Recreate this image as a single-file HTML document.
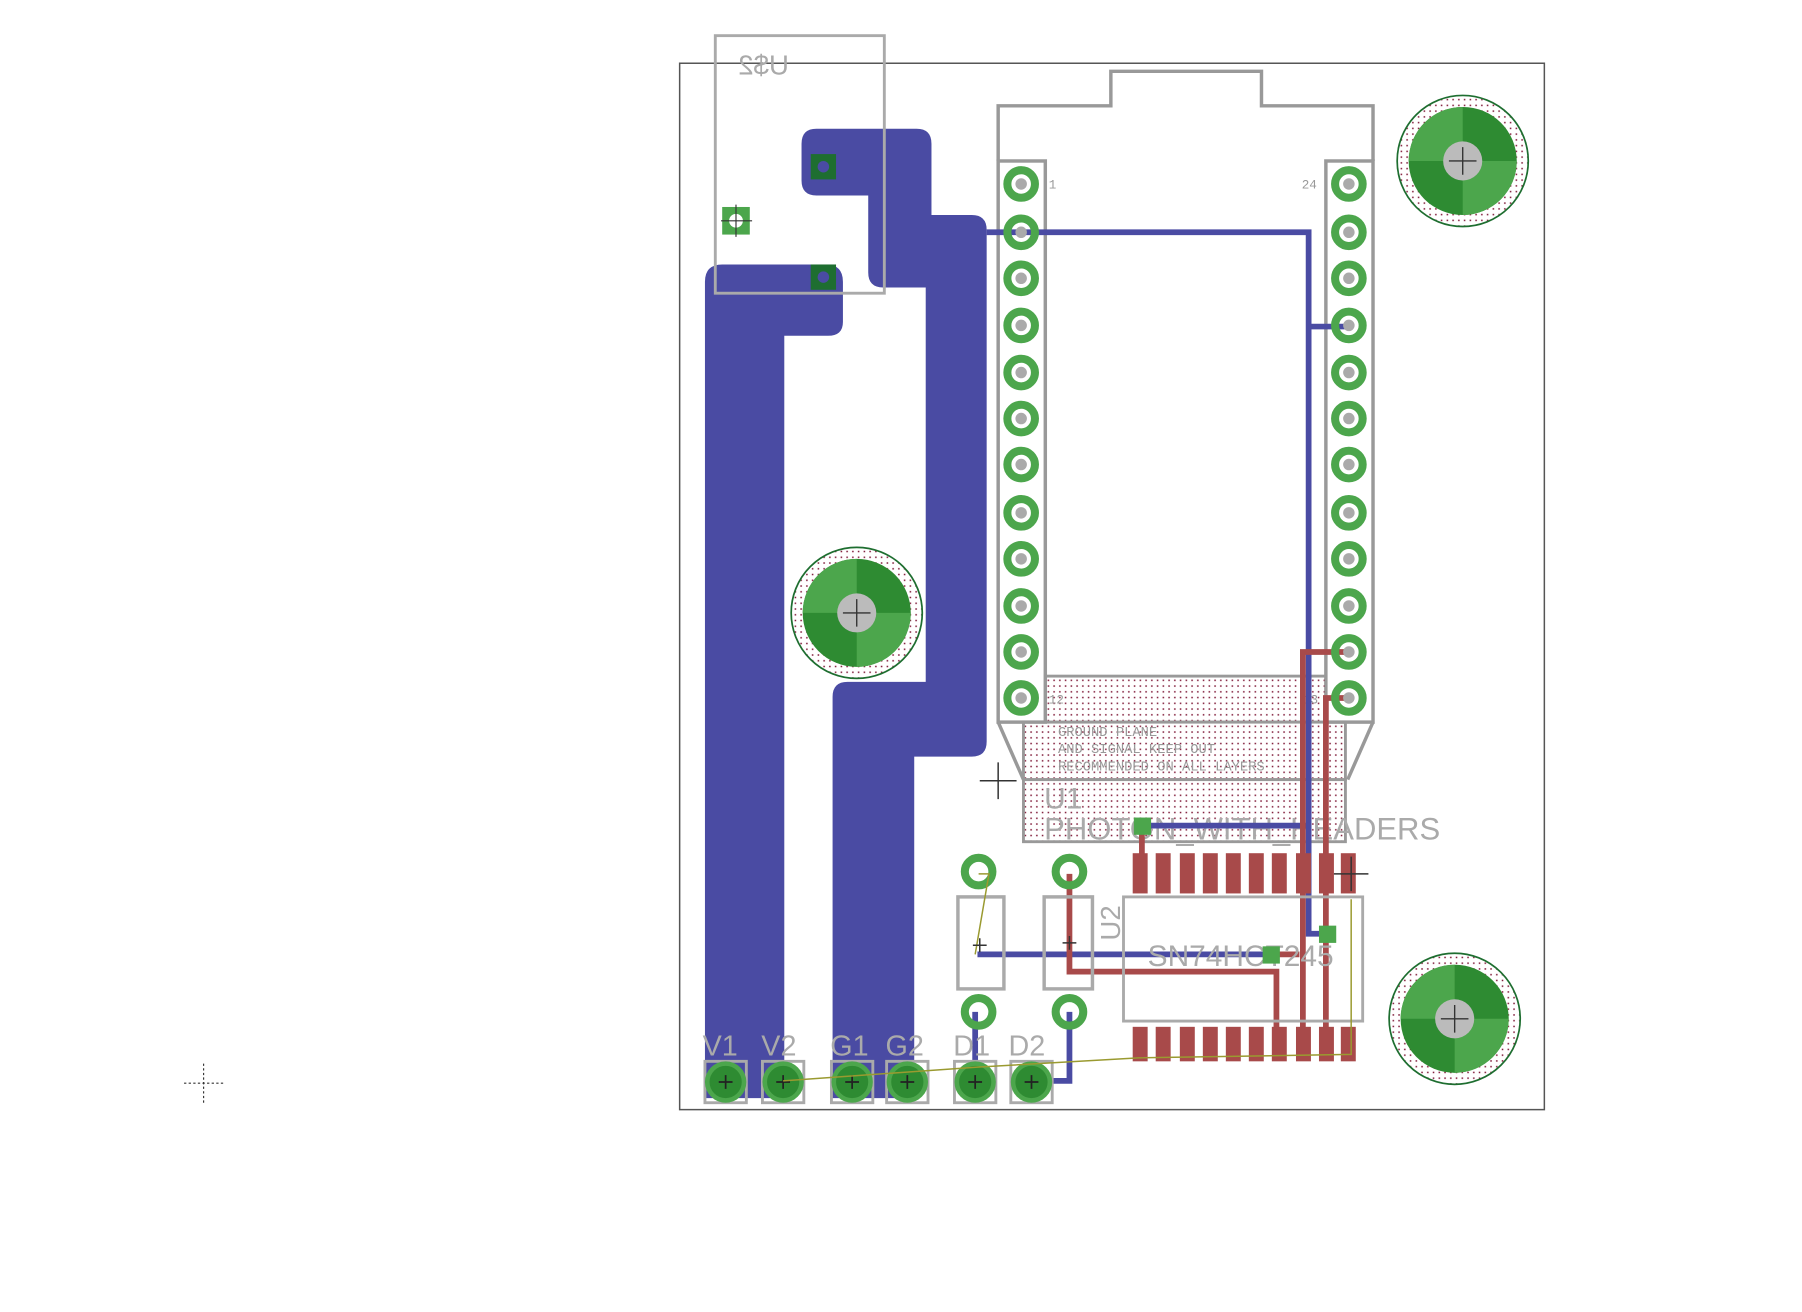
<!DOCTYPE html>
<html><head><meta charset="utf-8"><style>html,body{margin:0;padding:0;background:#fff}svg{display:block}</style></head>
<body>
<svg width="1802" height="1312" viewBox="0 0 1567 1141" xmlns="http://www.w3.org/2000/svg" font-family="Liberation Sans, sans-serif">
<defs>
<pattern id="dots" width="5" height="5" patternUnits="userSpaceOnUse"><rect x="1" y="1" width="1.3" height="1.3" fill="#7a1030"/></pattern>
</defs>
<rect width="1567" height="1141" fill="#fff"/>
<!-- board outline -->
<rect x="591" y="55" width="752" height="910" fill="none" stroke="#555" stroke-width="1.3"/>
<!-- blue pour -->
<g fill="#4a4ba3">
<path d="M613,245 Q613,230 628,230 L718,230 Q733,230 733,245 L733,280 Q733,292 720,292 L682,292 L682,955 L613,955 Z"/>
<path d="M710,112 L797,112 Q810,112 810,125 L810,187 L845,187 Q858,187 858,200 L858,645 Q858,658 845,658 L795,658 L795,955 L724,955 L724,606 Q724,593 737,593 L805,593 L805,250 L768,250 Q755,250 755,237 L755,170 L710,170 Q697,170 697,157 L697,125 Q697,112 710,112 Z"/>
</g>
<rect x="705" y="134" width="22" height="22" fill="#1e6e30"/><circle cx="716" cy="145" r="5" fill="#4a4ba3"/>
<rect x="705" y="230" width="22" height="22" fill="#1e6e30"/><circle cx="716" cy="241" r="5" fill="#4a4ba3"/>
<rect x="628" y="180" width="24" height="24" fill="#4ca64c"/><circle cx="640" cy="192" r="6" fill="#fff"/>
<path d="M627,192 H654 M640,178 V206" stroke="#333" stroke-width="1"/>
<!-- U$2 outline -->
<rect x="622" y="31" width="147" height="224" fill="none" stroke="#aaa" stroke-width="2.5"/>
<text x="638" y="65" font-size="24" fill="#aaa" transform="translate(1324,0) scale(-1,1)">U$2</text>
<!-- Photon outline -->
<path d="M868,140 V92 H966 V62 H1097 V92 H1194 V140" fill="none" stroke="#999" stroke-width="3"/>
<rect x="868" y="140" width="41" height="488" fill="none" stroke="#999" stroke-width="3"/>
<rect x="1153" y="140" width="41" height="488" fill="none" stroke="#999" stroke-width="3"/>
<path d="M868,628 L890,678 M1194,628 L1172,678" stroke="#999" stroke-width="3"/>
<!-- hatched keepout -->
<g stroke="#999" stroke-width="2.5" fill="url(#dots)">
<rect x="909" y="588" width="244" height="40"/>
<rect x="890" y="628" width="280" height="50"/>
<rect x="890" y="678" width="280" height="54"/>
</g>
<g font-family="Liberation Mono, monospace" fill="#999" font-size="12">
<text x="920" y="640">GROUND PLANE</text>
<text x="920" y="655">AND SIGNAL KEEP OUT</text>
<text x="920" y="670">RECOMMENDED ON ALL LAYERS</text>
<text x="912" y="612" font-size="11">12</text>
<text x="1133" y="612" font-size="11">13</text>
<text x="912" y="164" font-size="11">1</text>
<text x="1132" y="164" font-size="11">24</text>
</g>
<text x="908" y="703" font-size="26" fill="#aaa">U1</text>
<text x="908" y="730" font-size="27" fill="#aaa">PHOTON_WITH_HEADERS</text>
<!-- thin blue traces -->
<g stroke="#4a4ba3" stroke-width="5" fill="none">
<path d="M858,202 H1138 V812 H1155"/>
<path d="M1138,284 H1173"/>
<path d="M993,718 H1140"/>
<path d="M850,830 H1105"/>
<path d="M848,880 V940"/>
<path d="M930,880 V940 H897"/>
</g>
<!-- red traces -->
<g stroke="#a84a4a" stroke-width="5" fill="none">
<path d="M1173,567 H1133 V900"/>
<path d="M1173,607 H1153 V900"/>
<path d="M993,718 V745"/>
<path d="M930,760 V845 H1110 V900"/>
<path d="M1105,830 H1130"/>
</g>
<!-- SOIC pads -->
<g fill="#a84a4a">
<rect x="985" y="742" width="13" height="35"/><rect x="1005" y="742" width="13" height="35"/><rect x="1026" y="742" width="13" height="35"/><rect x="1046" y="742" width="13" height="35"/><rect x="1066" y="742" width="13" height="35"/><rect x="1086" y="742" width="13" height="35"/><rect x="1106" y="742" width="13" height="35"/><rect x="1127" y="742" width="13" height="35"/><rect x="1147" y="742" width="13" height="35"/><rect x="1166" y="742" width="13" height="35"/>
<rect x="985" y="893" width="13" height="30"/><rect x="1005" y="893" width="13" height="30"/><rect x="1026" y="893" width="13" height="30"/><rect x="1046" y="893" width="13" height="30"/><rect x="1066" y="893" width="13" height="30"/><rect x="1086" y="893" width="13" height="30"/><rect x="1106" y="893" width="13" height="30"/><rect x="1127" y="893" width="13" height="30"/><rect x="1147" y="893" width="13" height="30"/><rect x="1166" y="893" width="13" height="30"/>
</g>
<rect x="977" y="780" width="208" height="108" fill="none" stroke="#aaa" stroke-width="2.5"/>
<text x="998" y="840" font-size="26" fill="#aaa">SN74HCT245</text>
<text x="0" y="0" font-size="24" fill="#aaa" transform="translate(974,818) rotate(-90)">U2</text>
<!-- vias -->
<g fill="#4ca64c"><rect x="986" y="711" width="15" height="15"/><rect x="1098" y="823" width="15" height="15"/><rect x="1147" y="805" width="15" height="15"/></g>
<!-- resistors -->
<rect x="833" y="780" width="40" height="80" fill="none" stroke="#aaa" stroke-width="3"/>
<rect x="908" y="780" width="42" height="80" fill="none" stroke="#aaa" stroke-width="3"/>
<g fill="none" stroke="#4ca64c" stroke-width="7">
<circle cx="851" cy="758" r="12"/><circle cx="930" cy="758" r="12"/><circle cx="851" cy="880" r="12"/><circle cx="930" cy="880" r="12"/>
</g>
<!-- header pins -->
<g fill="none" stroke="#4ca64c" stroke-width="7">
<circle cx="888" cy="160" r="12"/><circle cx="888" cy="202" r="12"/><circle cx="888" cy="242" r="12"/><circle cx="888" cy="283" r="12"/><circle cx="888" cy="324" r="12"/><circle cx="888" cy="364" r="12"/><circle cx="888" cy="404" r="12"/><circle cx="888" cy="446" r="12"/><circle cx="888" cy="486" r="12"/><circle cx="888" cy="527" r="12"/><circle cx="888" cy="567" r="12"/><circle cx="888" cy="607" r="12"/>
<circle cx="1173" cy="160" r="12"/><circle cx="1173" cy="202" r="12"/><circle cx="1173" cy="242" r="12"/><circle cx="1173" cy="283" r="12"/><circle cx="1173" cy="324" r="12"/><circle cx="1173" cy="364" r="12"/><circle cx="1173" cy="404" r="12"/><circle cx="1173" cy="446" r="12"/><circle cx="1173" cy="486" r="12"/><circle cx="1173" cy="527" r="12"/><circle cx="1173" cy="567" r="12"/><circle cx="1173" cy="607" r="12"/>
</g>
<g fill="#aaa">
<circle cx="888" cy="160" r="5"/><circle cx="888" cy="202" r="5"/><circle cx="888" cy="242" r="5"/><circle cx="888" cy="283" r="5"/><circle cx="888" cy="324" r="5"/><circle cx="888" cy="364" r="5"/><circle cx="888" cy="404" r="5"/><circle cx="888" cy="446" r="5"/><circle cx="888" cy="486" r="5"/><circle cx="888" cy="527" r="5"/><circle cx="888" cy="567" r="5"/><circle cx="888" cy="607" r="5"/>
<circle cx="1173" cy="160" r="5"/><circle cx="1173" cy="202" r="5"/><circle cx="1173" cy="242" r="5"/><circle cx="1173" cy="283" r="5"/><circle cx="1173" cy="324" r="5"/><circle cx="1173" cy="364" r="5"/><circle cx="1173" cy="404" r="5"/><circle cx="1173" cy="446" r="5"/><circle cx="1173" cy="486" r="5"/><circle cx="1173" cy="527" r="5"/><circle cx="1173" cy="567" r="5"/><circle cx="1173" cy="607" r="5"/>
</g>
<!-- mounting holes -->
<g>
<g transform="translate(745,533)"><circle r="57" fill="url(#dots)" stroke="#1e6e30" stroke-width="1.5"/><circle r="47" fill="#2e8b32"/><path d="M0,-47 A47,47 0 0 1 47,0 L0,0 Z M0,47 A47,47 0 0 1 -47,0 L0,0 Z" fill="#4ca64c" transform="rotate(90)"/><circle r="17" fill="#bbb"/><path d="M-12,0H12M0,-12V12" stroke="#333" stroke-width="1.2"/></g>
<g transform="translate(1272,140)"><circle r="57" fill="url(#dots)" stroke="#1e6e30" stroke-width="1.5"/><circle r="47" fill="#2e8b32"/><path d="M0,-47 A47,47 0 0 1 47,0 L0,0 Z M0,47 A47,47 0 0 1 -47,0 L0,0 Z" fill="#4ca64c" transform="rotate(90)"/><circle r="17" fill="#bbb"/><path d="M-12,0H12M0,-12V12" stroke="#333" stroke-width="1.2"/></g>
<g transform="translate(1265,886)"><circle r="57" fill="url(#dots)" stroke="#1e6e30" stroke-width="1.5"/><circle r="47" fill="#2e8b32"/><path d="M0,-47 A47,47 0 0 1 47,0 L0,0 Z M0,47 A47,47 0 0 1 -47,0 L0,0 Z" fill="#4ca64c" transform="rotate(90)"/><circle r="17" fill="#bbb"/><path d="M-12,0H12M0,-12V12" stroke="#333" stroke-width="1.2"/></g>
</g>
<!-- bottom pads -->
<g fill="none" stroke="#aaa" stroke-width="2.5">
<rect x="613" y="923" width="36" height="36"/><rect x="663" y="923" width="36" height="36"/><rect x="723" y="923" width="36" height="36"/><rect x="771" y="923" width="36" height="36"/><rect x="830" y="923" width="36" height="36"/><rect x="879" y="923" width="36" height="36"/>
</g>
<g fill="#2e8b32" stroke="#4ca64c" stroke-width="4">
<circle cx="631" cy="941" r="16"/><circle cx="681" cy="941" r="16"/><circle cx="741" cy="941" r="16"/><circle cx="789" cy="941" r="16"/><circle cx="848" cy="941" r="16"/><circle cx="897" cy="941" r="16"/>
</g>
<g stroke="#222" stroke-width="1.5"><path d="M625,941h12M631,935v12M675,941h12M681,935v12M735,941h12M741,935v12M783,941h12M789,935v12M842,941h12M848,935v12M891,941h12M897,935v12"/></g>
<g font-size="25" fill="#aaa"><text x="611" y="918">V1</text><text x="662" y="918">V2</text><text x="722" y="918">G1</text><text x="770" y="918">G2</text><text x="829" y="918">D1</text><text x="877" y="918">D2</text></g>
<!-- airwire -->
<path d="M681,940 L850,928 L990,920 L1175,917 L1175,782 M851,760 L860,760 L848,830" fill="none" stroke="#9a9a30" stroke-width="1.3"/>
<!-- crosses -->
<path d="M852,679H884M868,663V695 M1160,760H1190M1175,745V775 M846,822H858M852,816V828 M924,820H936M930,814V826" stroke="#333" stroke-width="1.3"/>
<path d="M160,942H194M177,925V959" stroke="#333" stroke-width="1" stroke-dasharray="2,2"/>
</svg>
</body></html>
